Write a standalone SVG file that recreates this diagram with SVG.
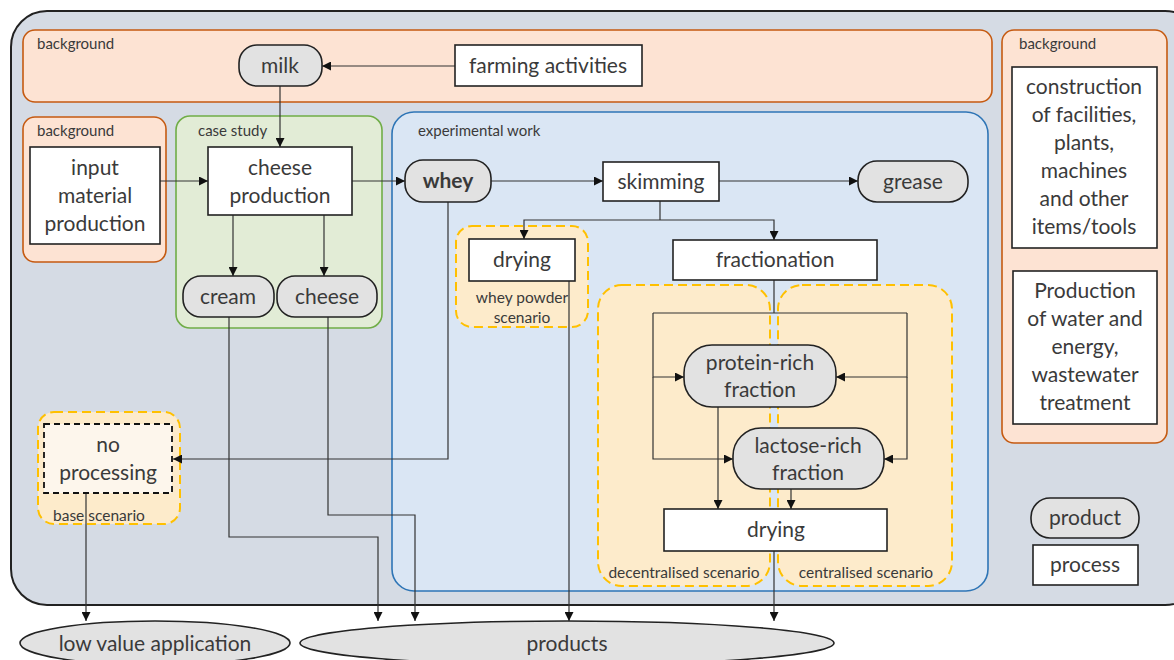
<svg xmlns="http://www.w3.org/2000/svg" width="1174" height="660" viewBox="0 0 1174 660">
<defs>
<marker id="ah" viewBox="0 0 10 10" refX="10" refY="5" markerWidth="9" markerHeight="9" markerUnits="userSpaceOnUse" orient="auto">
<path d="M0,0 L10,5 L0,10 z" fill="#111"/>
</marker>
<style>
text{font-family:Lato,"Liberation Sans",sans-serif;fill:#3a3a3a;}
.t{font-size:21px;text-anchor:middle;}
.s{font-size:15px;}
.sl{font-size:15.5px;}
.bg{fill:#fde3d3;stroke:#c55a11;stroke-width:1.6;}
.cs{fill:#e2ecd6;stroke:#70ad47;stroke-width:1.6;}
.ex{fill:#dae6f4;stroke:#2e75b6;stroke-width:1.6;}
.sc{fill:#fdebcb;stroke:#ffc000;stroke-width:2;stroke-dasharray:9 5;}
.pr{fill:#e2e2e2;stroke:#222;stroke-width:1.6;}
.ps{fill:#fff;stroke:#222;stroke-width:1.6;}
.c{fill:none;stroke:#333;stroke-width:1.2;}
.ca{fill:none;stroke:#333;stroke-width:1.2;marker-end:url(#ah);}
</style>
</defs>
<rect x="11" y="11" width="1190" height="594" rx="36" fill="#d5dbe4" stroke="#222" stroke-width="2"/>
<g id="containers">
<rect class="bg" x="23" y="30" width="969" height="72" rx="12"/>
<text class="s" x="37" y="49">background</text>
<rect class="bg" x="23" y="117" width="143" height="145" rx="12"/>
<text class="s" x="37" y="136">background</text>
<rect class="cs" x="176" y="116" width="206" height="212" rx="14"/>
<text class="s" x="198" y="136">case study</text>
<rect class="ex" x="392" y="112" width="596" height="479" rx="22"/>
<text class="s" x="418" y="136">experimental work</text>
<rect class="bg" x="1002" y="30" width="165" height="413" rx="12"/>
<text class="s" x="1019" y="49">background</text>
<rect class="sc" x="456" y="226" width="132" height="101" rx="16"/>
<text class="sl" x="522" y="303" text-anchor="middle">whey powder</text>
<text class="sl" x="522" y="323" text-anchor="middle">scenario</text>
<rect class="sc" x="598" y="285" width="172" height="301" rx="24"/>
<text class="sl" x="684" y="578" text-anchor="middle">decentralised scenario</text>
<rect class="sc" x="778" y="285" width="174" height="301" rx="24"/>
<text class="sl" x="866" y="578" text-anchor="middle">centralised scenario</text>
<rect class="sc" x="38" y="412" width="142" height="112" rx="16"/>
<text class="sl" x="53" y="521">base scenario</text>
</g>
<g id="connectors">
<path class="ca" d="M455,66 L322,66"/>
<path class="ca" d="M280,86 L280,147"/>
<path class="ca" d="M160,181 L208,181"/>
<path class="ca" d="M233,215 L233,276"/>
<path class="ca" d="M324,215 L324,276"/>
<path class="ca" d="M352,181 L405,181"/>
<path class="ca" d="M491,181 L603,181"/>
<path class="ca" d="M719,181 L858,181"/>
<path class="c" d="M660,201 L660,220"/>
<path class="ca" d="M660,220 L524,220 L524,239"/>
<path class="ca" d="M660,220 L774,220 L774,240"/>
<path class="c" d="M774,280 L774,313"/>
<path class="c" d="M653,313 L907,313"/>
<path class="ca" d="M653,313 L653,377 L684,377"/>
<path class="ca" d="M653,377 L653,459 L733,459"/>
<path class="ca" d="M907,313 L907,377 L836,377"/>
<path class="ca" d="M907,377 L907,459 L884,459"/>
<path class="ca" d="M718,407 L718,509"/>
<path class="ca" d="M791,489 L791,509"/>
<path class="ca" d="M774,551 L774,621"/>
<path class="ca" d="M569,281 L569,621"/>
<path class="ca" d="M448,202 L448,459 L173,459"/>
<path class="ca" d="M86,493 L86,621"/>
<path class="ca" d="M229,317 L229,537 L378,537 L378,621"/>
<path class="ca" d="M328,317 L328,515 L415,515 L415,621"/>
</g>
<g id="milk"><rect class="pr" x="239" y="45" width="83" height="41" rx="18"/><text class="t" x="280" y="73">milk</text></g>
<g id="farming"><rect class="ps" x="455" y="45" width="187" height="41"/><text class="t" x="548" y="73">farming activities</text></g>
<g id="input"><rect class="ps" x="30" y="147" width="130" height="97"/><text class="t" x="95" y="175">input</text><text class="t" x="95" y="203">material</text><text class="t" x="95" y="231">production</text></g>
<g id="cheeseprod"><rect class="ps" x="208" y="147" width="144" height="68"/><text class="t" x="280" y="175">cheese</text><text class="t" x="280" y="203">production</text></g>
<g id="cream"><rect class="pr" x="183" y="276" width="91" height="41" rx="18"/><text class="t" x="228" y="304">cream</text></g>
<g id="cheese"><rect class="pr" x="277" y="276" width="100" height="41" rx="18"/><text class="t" x="327" y="304">cheese</text></g>
<g id="whey"><rect class="pr" x="405" y="160" width="86" height="42" rx="18"/><text class="t" x="448" y="188" font-weight="bold">whey</text></g>
<g id="skimming"><rect class="ps" x="603" y="162" width="116" height="39"/><text class="t" x="661" y="189">skimming</text></g>
<g id="grease"><rect class="pr" x="858" y="161" width="110" height="41" rx="19"/><text class="t" x="913" y="189">grease</text></g>
<g id="drying1"><rect class="ps" x="469" y="239" width="106" height="42"/><text class="t" x="522" y="267">drying</text></g>
<g id="fractionation"><rect class="ps" x="673" y="240" width="204" height="40"/><text class="t" x="775" y="267">fractionation</text></g>
<g id="protein"><rect class="pr" x="684" y="345" width="152" height="62" rx="28"/><text class="t" x="760" y="370">protein-rich</text><text class="t" x="760" y="397">fraction</text></g>
<g id="lactose"><rect class="pr" x="733" y="428" width="151" height="61" rx="28"/><text class="t" x="808" y="453">lactose-rich</text><text class="t" x="808" y="480">fraction</text></g>
<g id="drying2"><rect class="ps" x="664" y="509" width="223" height="42"/><text class="t" x="776" y="537">drying</text></g>
<g id="noprocessing"><rect x="44" y="424" width="128" height="69" fill="#fdf6ec" stroke="#111" stroke-width="1.8" stroke-dasharray="6 4"/><text class="t" x="108" y="452">no</text><text class="t" x="108" y="480">processing</text></g>
<g id="construction"><rect class="ps" x="1012" y="67" width="145" height="181"/><text class="t" x="1084" y="94">construction</text><text class="t" x="1084" y="122">of facilities,</text><text class="t" x="1084" y="150">plants,</text><text class="t" x="1084" y="178">machines</text><text class="t" x="1084" y="206">and other</text><text class="t" x="1084" y="234">items/tools</text></g>
<g id="water"><rect class="ps" x="1013" y="271" width="144" height="153"/><text class="t" x="1085" y="298">Production</text><text class="t" x="1085" y="326">of water and</text><text class="t" x="1085" y="354">energy,</text><text class="t" x="1085" y="382">wastewater</text><text class="t" x="1085" y="410">treatment</text></g>
<g id="legend-product"><rect class="pr" x="1031" y="498" width="108" height="40" rx="19"/><text class="t" x="1085" y="525">product</text></g>
<g id="legend-process"><rect class="ps" x="1033" y="545" width="105" height="40"/><text class="t" x="1085" y="572">process</text></g>
<g id="lowvalue"><ellipse class="pr" cx="155" cy="643" rx="135" ry="22"/><text class="t" x="155" y="651">low value application</text></g>
<g id="products"><ellipse class="pr" cx="567" cy="643" rx="267" ry="22"/><text class="t" x="567" y="651">products</text></g>
</svg>
